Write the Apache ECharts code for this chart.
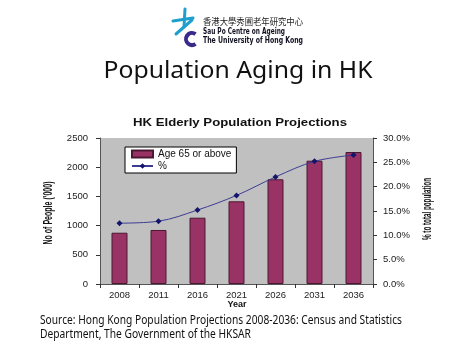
<!DOCTYPE html>
<html>
<head>
<meta charset="utf-8">
<script src="https://cdn.jsdelivr.net/npm/echarts@6/dist/echarts.min.js"></script>
<style>
html,body{margin:0;padding:0;background:#fff;}
#c{width:474px;height:355px;}
</style>
</head>
<body>
<div id="c"></div>
<script>
// ---- data ----
var years = ['2008', '2011', '2016', '2021', '2026', '2031', '2036'];
var elderly = [878, 925, 1135, 1416, 1793, 2111, 2260];          // '000 people, age 65+
var percent = [12.5, 12.9, 15.2, 18.2, 22.0, 25.2, 26.5];        // % of total population
var leftTicks = {min: 0, max: 2500, interval: 500};
var rightTicks = {min: 0, max: 30, interval: 5};

var ctx = document.createElement('canvas').getContext('2d');
function fit(text, font, target) {
  ctx.font = font;
  var w = ctx.measureText(text).width;
  return target / w;
}
function txt(text, x, y, opt) {
  var font = (opt.weight || 'normal') + ' ' + opt.size + 'px ' + opt.family;
  var s = opt.width ? fit(text, font, opt.width) : 1;
  return {
    type: 'text', x: x, y: y, rotation: opt.rotation || 0,
    scaleX: s, scaleY: 1, silent: true,
    style: {
      text: text, fill: opt.color || '#000',
      font: font,
      align: opt.align || 'left', verticalAlign: 'middle'
    }
  };
}

var chart = echarts.init(document.getElementById('c'), null, {renderer: 'canvas'});
var labelStyle = {color: '#222', fontSize: 9.5, fontFamily: 'Liberation Sans'};
var axisLine = {show: true, lineStyle: {color: '#555', width: 1}};
var teal = '#1f9fcc', purple = '#3a2a8c';

chart.setOption({
  animation: false,
  backgroundColor: '#fff',
  grid: {left: 100, right: 101, top: 138, bottom: 71, show: true,
         backgroundColor: '#c0c0c0', borderWidth: 0},
  legend: {
    orient: 'vertical', left: 125, top: 147, width: 109,
    backgroundColor: '#fff', borderColor: '#000', borderWidth: 1,
    padding: [2, 5, 2, 6], itemGap: 2, itemWidth: 21, itemHeight: 7,
    textStyle: {fontSize: 10, color: '#111', fontFamily: 'Liberation Sans'},
    data: [{name: 'Age 65 or above', icon: 'rect'}, {name: '%'}]
  },
  xAxis: {
    type: 'category', data: years,
    axisLine: axisLine,
    axisTick: {show: true, length: 4, lineStyle: {color: '#333'}},
    axisLabel: Object.assign({margin: 6}, labelStyle),
    splitLine: {show: false}
  },
  yAxis: [{
    type: 'value', min: leftTicks.min, max: leftTicks.max, interval: leftTicks.interval,
    axisLine: axisLine,
    axisTick: {show: true, length: 4, lineStyle: {color: '#333'}},
    axisLabel: Object.assign({margin: 12, formatter: function (v) { return String(v); }}, labelStyle),
    splitLine: {show: false}
  }, {
    type: 'value', position: 'right',
    min: rightTicks.min, max: rightTicks.max, interval: rightTicks.interval,
    axisLine: axisLine,
    axisTick: {show: true, length: 4, lineStyle: {color: '#333'}},
    axisLabel: Object.assign({margin: 10, formatter: function (v) { return v.toFixed(1) + '%'; }}, labelStyle),
    splitLine: {show: false}
  }],
  series: [{
    name: 'Age 65 or above', type: 'bar', data: elderly, barWidth: 16,
    itemStyle: {color: '#993366', borderColor: '#4a1830', borderWidth: 1}
  }, {
    name: '%', type: 'line', yAxisIndex: 1, data: percent, smooth: 0.35,
    symbol: 'diamond', symbolSize: 6,
    lineStyle: {color: '#3c3c96', width: 1},
    itemStyle: {color: '#14146a'}
  }],
  graphic: [
    // logo mark
    {type: 'line', silent: true, shape: {x1: 173, y1: 21, x2: 193, y2: 18}, style: {stroke: teal, lineWidth: 3, lineCap: 'round'}},
    {type: 'line', silent: true, shape: {x1: 185, y1: 9, x2: 184, y2: 27}, style: {stroke: teal, lineWidth: 3, lineCap: 'round'}},
    {type: 'line', silent: true, shape: {x1: 192, y1: 20, x2: 176, y2: 34}, style: {stroke: teal, lineWidth: 3, lineCap: 'round'}},
    {type: 'arc', silent: true, shape: {cx: 192, cy: 39, r: 6, startAngle: -Math.PI * 0.3, endAngle: Math.PI * 0.3, clockwise: false},
     style: {stroke: purple, lineWidth: 4, fill: 'none'}},
    txt('香港大學秀圃老年研究中心', 203, 22, {size: 9, family: '"Noto Sans CJK TC"', color: '#222', width: 100}),
    txt('Sau Po Centre on Ageing', 203, 32, {size: 8, weight: 'bold', family: '"DejaVu Sans"', color: '#111122', width: 82}),
    txt('The University of Hong Kong', 203, 40.5, {size: 8, weight: 'bold', family: '"DejaVu Sans"', color: '#111122', width: 100}),
    // slide title
    txt('Population Aging in HK', 238, 71, {size: 24, family: '"Noto Sans"', color: '#111', width: 269, align: 'center'}),
    // chart title
    txt('HK Elderly Population Projections', 240, 123, {size: 11, weight: 'bold', family: '"Liberation Sans"', color: '#111', width: 214, align: 'center'}),
    // axis names
    txt("No of People ('000)", 49, 213, {size: 12, weight: 'bold', family: '"Liberation Sans Narrow", "Liberation Sans"', color: '#111', width: 63, align: 'center', rotation: Math.PI / 2}),
    txt('% to total population', 428, 209, {size: 12, weight: 'bold', family: '"Liberation Sans Narrow", "Liberation Sans"', color: '#111', width: 62, align: 'center', rotation: Math.PI / 2}),
    txt('Year', 237, 305, {size: 9, weight: 'bold', family: '"Liberation Sans"', color: '#111', align: 'center'}),
    // source
    txt('Source: Hong Kong Population Projections 2008-2036: Census and Statistics', 40, 320.5, {size: 12, family: '"Noto Sans"', color: '#111', width: 362}),
    txt('Department, The Government of the HKSAR', 40, 334.5, {size: 12, family: '"Noto Sans"', color: '#111', width: 211})
  ]
});
</script>
</body>
</html>
